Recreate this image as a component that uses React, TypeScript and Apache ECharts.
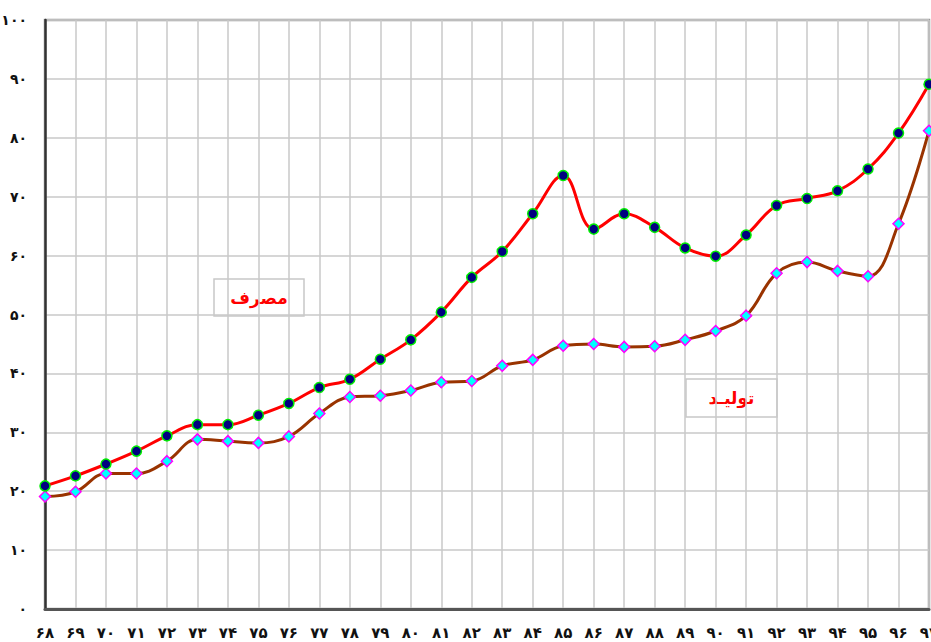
import React, { useEffect, useRef } from 'react';
import * as echarts from 'echarts';

const years = ['۶۸','۶۹','۷۰','۷۱','۷۲','۷۳','۷۴','۷۵','۷۶','۷۷','۷۸','۷۹','۸۰','۸۱','۸۲','۸۳','۸۴','۸۵','۸۶','۸۷','۸۸','۸۹','۹۰','۹۱','۹۲','۹۳','۹۴','۹۵','۹۶','۹۷'];
const consumption = [20.9,22.6,24.6,26.8,29.4,31.3,31.3,32.9,34.9,37.6,39.0,42.4,45.7,50.4,56.3,60.7,67.1,73.6,64.5,67.1,64.8,61.3,59.9,63.5,68.5,69.7,71.0,74.7,80.8,89.1];
const production = [19.1,19.9,23.0,23.0,25.1,28.8,28.5,28.2,29.3,33.2,36.0,36.2,37.1,38.5,38.7,41.3,42.3,44.7,45.0,44.5,44.6,45.7,47.2,49.8,57.0,58.9,57.4,56.5,65.4,81.2];
const consumptionLabel = 'مصرف';
const productionLabel = 'تولیـد';
const faDigits = '۰۱۲۳۴۵۶۷۸۹';
const toFa = (v: number) => String(v).replace(/[0-9]/g, (d) => faDigits[Number(d)]);

export default function App() {
  const ref = useRef<HTMLDivElement>(null);
  useEffect(() => {
    if (!ref.current) return;
    const chart = echarts.init(ref.current, undefined, { renderer: 'svg' });
    const font = "'DejaVu Sans', sans-serif";
    const labelBox = (cx: number, cy: number, w: number, h: number, text: string) => ({
      type: 'group',
      x: cx - w / 2,
      y: cy - h / 2,
      z: 100,
      children: [
        { type: 'rect', shape: { x: 0, y: 0, width: w, height: h }, style: { fill: '#fff', stroke: '#c8c8c8', lineWidth: 1.5 } },
        { type: 'text', x: w / 2, y: h / 2, style: { text, fill: '#ff0000', font: `bold 17px ${font}`, align: 'center', verticalAlign: 'middle' } },
      ],
    });
    chart.setOption({
      animation: false,
      backgroundColor: '#fff',
      grid: { left: 45, top: 20, right: 2, bottom: 33, outerBoundsMode: 'none', containLabel: false, show: true, borderColor: '#9a9a9a', borderWidth: 2.5, backgroundColor: 'transparent' },
      xAxis: {
        type: 'category',
        data: years,
        boundaryGap: false,
        axisLine: { show: true, lineStyle: { color: '#555', width: 3 } },
        axisTick: { show: false },
        axisLabel: { color: '#111', fontWeight: 'bold', fontSize: 15, fontFamily: font, margin: 16, interval: 0 },
        splitLine: { show: true, lineStyle: { color: '#c8c8c8', width: 1.5 } },
      },
      yAxis: {
        type: 'value',
        min: 0,
        max: 100,
        interval: 10,
        axisLine: { show: true, lineStyle: { color: '#333', width: 2.5 } },
        axisTick: { show: false },
        axisLabel: { color: '#111', fontWeight: 'bold', fontSize: 14, fontFamily: font, margin: 18, formatter: (v: number) => toFa(v) },
        splitLine: { show: true, lineStyle: { color: '#c8c8c8', width: 1.5 } },
      },
      series: [
        {
          name: consumptionLabel,
          type: 'line',
          data: consumption,
          smooth: 0.4,
          symbol: 'circle',
          symbolSize: 10,
          lineStyle: { color: '#ff0000', width: 3 },
          itemStyle: { color: '#000080', borderColor: '#00ee00', borderWidth: 1.5 },
          z: 3,
        },
        {
          name: productionLabel,
          type: 'line',
          data: production,
          smooth: 0.4,
          symbol: 'diamond',
          symbolSize: 11,
          lineStyle: { color: '#993300', width: 3 },
          itemStyle: { color: '#00ffff', borderColor: '#ff00ff', borderWidth: 1.5 },
          z: 2,
        },
      ],
      graphic: [
        labelBox(259, 297.5, 90, 37, consumptionLabel),
        labelBox(731.5, 398, 91, 38, productionLabel),
      ],
    });
    return () => chart.dispose();
  }, []);
  return <div ref={ref} style={{ position: 'fixed', left: 0, top: 0, width: 931, height: 642 }} />;
}
